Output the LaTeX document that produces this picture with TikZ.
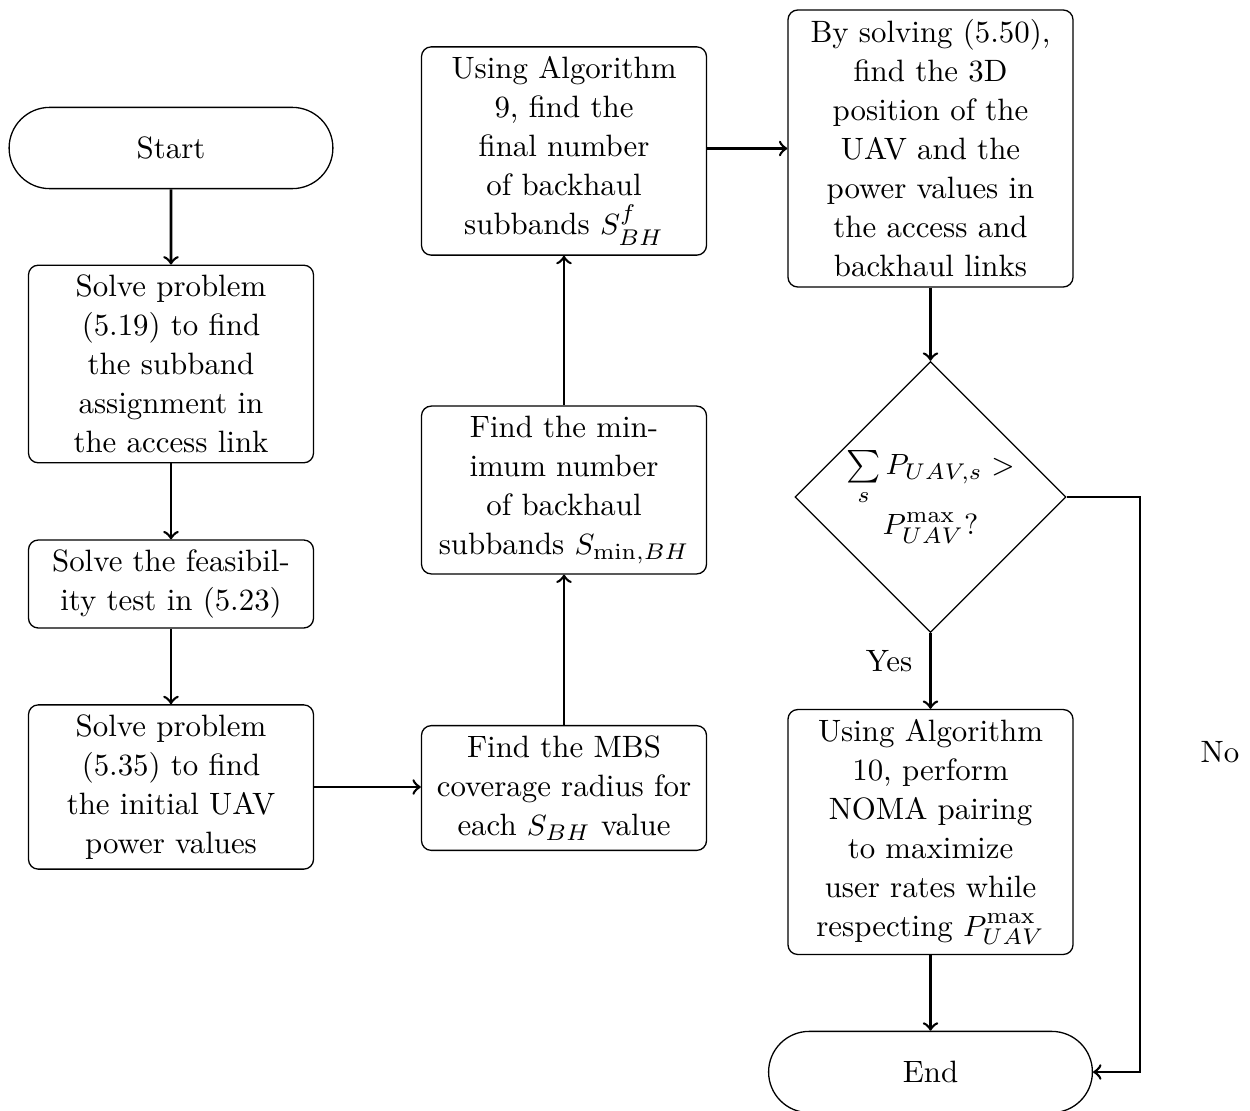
\documentclass[tikz,border=0pt]{standalone}
\usetikzlibrary{shapes.geometric,shapes.misc}
\begin{document}
\begin{tikzpicture}[x=0.30769pt,y=-0.30769pt,
  font=\fontsize{9.5}{12}\selectfont,
  box/.style={draw, rounded corners=3pt, text width=78.9pt, align=center, inner xsep=4.4pt, inner ysep=3pt},
  term/.style={draw, rounded rectangle, minimum width=106.3pt, minimum height=25pt},
  dec/.style={draw, diamond, aspect=1, minimum width=83.4pt, minimum height=83.4pt, inner sep=0pt, align=center},
  arr/.style={->, thick},
  lbl/.style={inner sep=0pt}]
\useasboundingbox (0,0) rectangle (1250,1111);
\node[term] (start) at (171,148) {Start};
\node[box] (b1) at (171,364) {Solve problem (5.19) to find the subband assignment in the access link};
\node[box] (b2) at (171,584) {Solve the feasibility test in (5.23)};
\node[box] (b3) at (171,787) {Solve problem (5.35) to find the initial UAV power values};
\node[box] (b4) at (564,788) {Find the MBS coverage radius for each $S_{BH}$ value};
\node[box] (b5) at (564,490) {Find the minimum number of backhaul subbands $S_{\min,BH}$};
\node[box] (b6) at (564,151) {Using Algorithm 9, find the final number of backhaul subbands $S_{BH}^{f}$};
\node[box] (b7) at (930.5,148.5) {By solving (5.50), find the 3D position of the UAV and the power values in the access and backhaul links};
\node[dec] (d) at (930.5,497) {$\sum\limits_s P_{UAV,s} >$\\[1pt]$P_{UAV}^{\max}?$};
\node[box] (b8) at (930.5,832) {Using Algorithm 10, perform NOMA pairing to maximize user rates while respecting $P_{UAV}^{\max}$};
\node[term] (end) at (930.5,1072) {End};
\coordinate (c1) at (1140,497);
\coordinate (c2) at (1140,1072);
\node[lbl] (yes) at (889,661) {Yes};
\node[lbl] (no) at (1220,752) {No};

\draw[arr] (start) -- (b1);
\draw[arr] (b1) -- (b2);
\draw[arr] (b2) -- (b3);
\draw[arr] (b3.east) -- (b3.east -| b4.west);
\draw[arr] (b4) -- (b5);
\draw[arr] (b5) -- (b6);
\draw[arr] (b6.east |- b7) -- (b7.west);
\draw[arr] (b7) -- (d);
\draw[arr] (d) -- (b8);
\draw[arr] (b8) -- (end);
\draw[arr] (d.east) -- (c1) -- (c2) -- (end.east);
\end{tikzpicture}
\end{document}
